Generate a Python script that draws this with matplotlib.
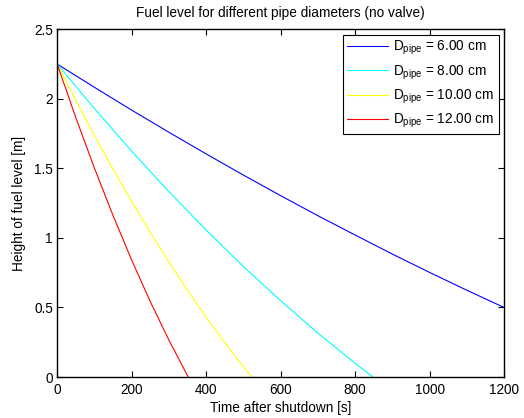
import matplotlib
matplotlib.use("Agg")
import matplotlib.pyplot as plt

plt.rcParams["font.family"] = ["Liberation Sans", "DejaVu Sans"]
plt.rcParams["mathtext.fontset"] = "custom"
plt.rcParams["mathtext.rm"] = "Liberation Sans"
plt.rcParams["mathtext.it"] = "Liberation Sans:italic"

# Time [s] and fuel level [m] for each pipe diameter
t_6cm = [0, 100, 200, 300, 400, 500, 600, 700, 800, 900, 1000, 1100, 1200]
h_6cm = [2.25, 2.083, 1.919, 1.760, 1.604, 1.452, 1.304, 1.160, 1.021, 0.884, 0.752, 0.624, 0.50]

t_8cm = [0, 100, 200, 300, 400, 500, 600, 700, 800, 848]
h_8cm = [2.25, 1.930, 1.624, 1.333, 1.057, 0.795, 0.549, 0.316, 0.099, 0.0]

t_10cm = [0, 50, 100, 150, 200, 250, 300, 350, 400, 450, 500, 522]
h_10cm = [2.25, 1.989, 1.737, 1.495, 1.263, 1.040, 0.828, 0.624, 0.431, 0.247, 0.074, 0.0]

t_12cm = [0, 50, 100, 150, 200, 250, 300, 352]
h_12cm = [2.25, 1.866, 1.503, 1.162, 0.842, 0.543, 0.266, 0.0]

diameters = ["6.00", "8.00", "10.00", "12.00"]
colors = ["#0000ff", "#00ffff", "#ffff00", "#ff0000"]
series = [(t_6cm, h_6cm), (t_8cm, h_8cm), (t_10cm, h_10cm), (t_12cm, h_12cm)]

xticks = [0, 200, 400, 600, 800, 1000, 1200]
yticks = [0, 0.5, 1, 1.5, 2, 2.5]
ytick_labels = ["0", "0.5", "1", "1.5", "2", "2.5"]

FS = 9.8

fig = plt.figure(figsize=(5.24, 4.18), dpi=100)
ax = fig.add_axes([0.109, 0.098, 0.853, 0.832])

for (t, h), d, c in zip(series, diameters, colors):
    ax.plot(t, h, color=c, linewidth=0.8,
            label=r"D$_{\mathrm{pipe}}$ = " + d + " cm")

ax.set_xlim(0, 1200)
ax.set_ylim(0, 2.5)
ax.set_xticks(xticks)
ax.set_xticklabels([str(v) for v in xticks])
ax.set_yticks(yticks)
ax.set_yticklabels(ytick_labels)
ax.tick_params(axis="both", direction="in", length=4, width=0.8, labelsize=FS,
               top=True, right=True, colors="black")
ax.tick_params(axis="x", pad=4)
ax.tick_params(axis="y", pad=3)
for s in ax.spines.values():
    s.set_linewidth(1.0)

ax.set_xlabel("Time after shutdown [s]", fontsize=FS, labelpad=3)
ax.set_ylabel("Height of fuel level [m]", fontsize=FS, labelpad=6)
ax.set_title("Fuel level for different pipe diameters (no valve)", fontsize=FS, pad=9)

leg = ax.legend(loc="upper right", fontsize=FS, frameon=True, fancybox=False,
                edgecolor="black", framealpha=1, handlelength=3.0,
                handletextpad=0.4, labelspacing=0.45, borderpad=0.3,
                borderaxespad=0.4)
leg.get_frame().set_linewidth(0.8)

fig.savefig("out.png", dpi=100)
